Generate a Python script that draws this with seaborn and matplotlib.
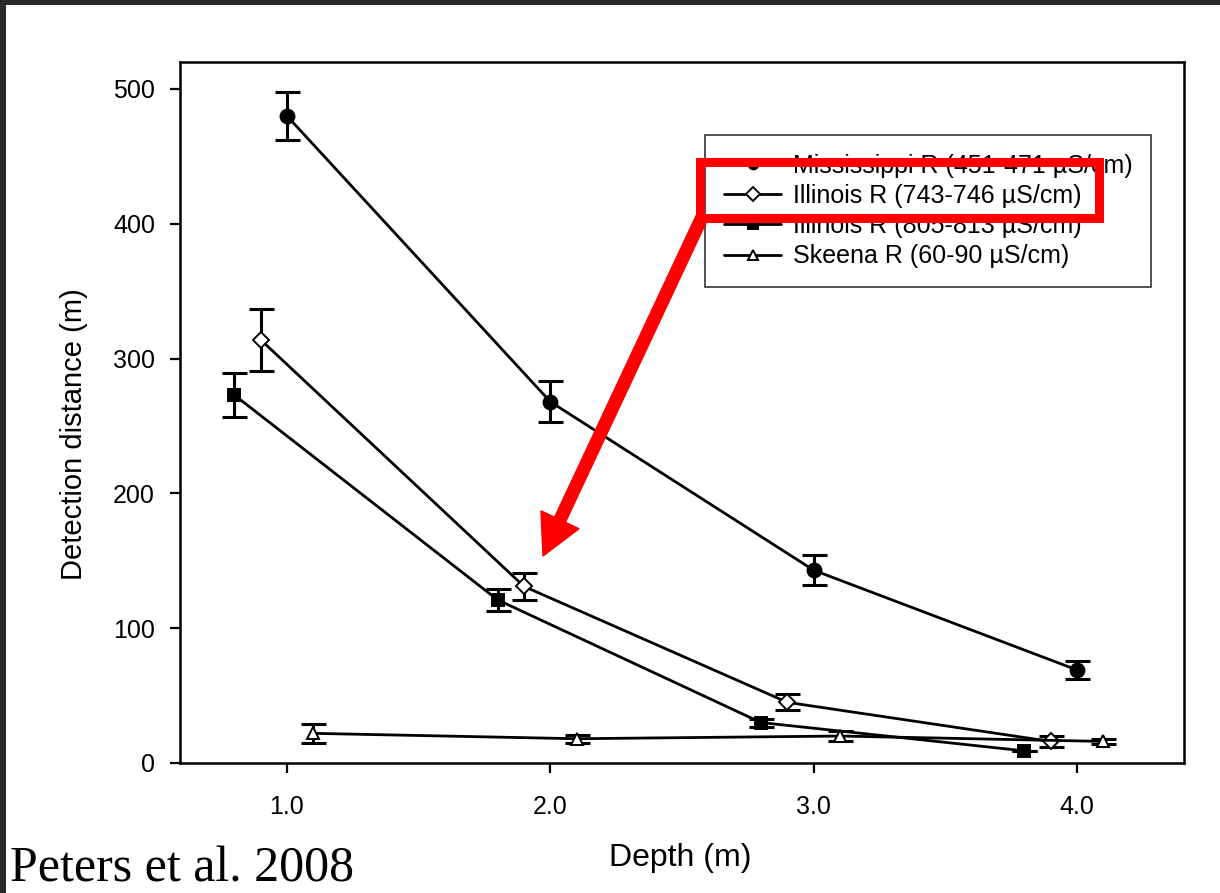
import matplotlib
matplotlib.use("Agg")
import matplotlib.pyplot as plt
import seaborn as sns
import pandas as pd
from matplotlib.patches import Rectangle, FancyArrow
from matplotlib.transforms import IdentityTransform

# ---- data ----
series_names = [
    "Mississippi R (451-471 \u00b5S/cm)",
    "Illinois R (743-746 \u00b5S/cm)",
    "Illinois R (805-813 \u00b5S/cm)",
    "Skeena R (60-90 \u00b5S/cm)",
]
miss_depth = [1.0, 2.0, 3.0, 4.0]
miss_dist = [480, 268, 143, 69]
miss_err = [18, 15, 11, 7]

ill743_depth = [0.9, 1.9, 2.9, 3.9]
ill743_dist = [314, 131, 45, 16]
ill743_err = [23, 10, 6, 4]

ill805_depth = [0.8, 1.8, 2.8, 3.8]
ill805_dist = [273, 121, 30, 9]
ill805_err = [16, 8, 3, 0]

skeena_depth = [1.1, 2.1, 3.1, 4.1]
skeena_dist = [22, 18, 20, 16]
skeena_err = [7, 3, 4, 2]

x_ticks = [1.0, 2.0, 3.0, 4.0]
x_ticklabels = ["1.0", "2.0", "3.0", "4.0"]
y_ticks = [0, 100, 200, 300, 400, 500]

series = [
    (series_names[0], miss_depth, miss_dist, miss_err, "o", "black", 10),
    (series_names[1], ill743_depth, ill743_dist, ill743_err, "D", "white", 8),
    (series_names[2], ill805_depth, ill805_dist, ill805_err, "s", "black", 8),
    (series_names[3], skeena_depth, skeena_dist, skeena_err, "^", "white", 9),
]

sns.set_theme(style="ticks")
plt.rcParams["font.family"] = ["Liberation Sans", "DejaVu Sans"]

fig = plt.figure(figsize=(12.2, 8.93), dpi=100)
ax = fig.add_axes([180 / 1220, 130 / 893, 1004 / 1220, 701 / 893])

for name, xs, ys, es, mk, fc, ms in series:
    df = pd.DataFrame({"Depth": xs, "Distance": ys})
    ax.errorbar(xs, ys, yerr=es, fmt="none", ecolor="black", elinewidth=2.2,
                capsize=9, capthick=2.2, zorder=2)
    sns.lineplot(data=df, x="Depth", y="Distance", ax=ax, color="black",
                 estimator=None, sort=False, linewidth=2.0, marker=mk,
                 markersize=ms, markerfacecolor=fc, markeredgecolor="black",
                 markeredgewidth=1.4, label=name, zorder=3)

ax.set_xlim(0.594, 4.406)
ax.set_ylim(0, 520)
ax.set_xticks(x_ticks)
ax.set_xticklabels(x_ticklabels)
ax.set_yticks(y_ticks)
ax.tick_params(axis="both", labelsize=18, length=7, width=1.6,
               colors="black", direction="out")
ax.tick_params(axis="x", pad=16)
ax.tick_params(axis="y", pad=11)
for sp in ax.spines.values():
    sp.set_linewidth(1.8)
    sp.set_color("black")
    sp.set_visible(True)

ax.set_xlabel("Depth (m)", fontsize=23, color="black")
ax.set_ylabel("Detection distance (m)", fontsize=21, color="black")
ax.yaxis.set_label_coords(-0.092, 0.469)
ax.xaxis.set_label_coords(0.498, -0.114)

handles, labels = ax.get_legend_handles_labels()
leg = ax.legend(handles, labels, loc="upper left", bbox_to_anchor=(0.523, 0.896),
                borderaxespad=0, fontsize=18, frameon=True, fancybox=False,
                edgecolor="black", handlelength=2.3, handletextpad=0.45,
                labelspacing=0.25, borderpad=0.75, labelcolor="black")
leg.get_frame().set_linewidth(1.2)
for h in leg.legend_handles:
    h.set_markersize(7)

# red highlight box and arrow (figure pixel coordinates)
H = 893
fig.add_artist(Rectangle((699.5, H - 217.5), 399, 56, fill=False,
                         edgecolor="#ff0000", linewidth=6.5,
                         transform=IdentityTransform(), zorder=10))
fig.add_artist(FancyArrow(703, H - 215, 543 - 703, (H - 556) - (H - 215),
                          width=12, head_width=42, head_length=40,
                          length_includes_head=True, color="#ff0000",
                          transform=IdentityTransform(), zorder=10))

# citation text
fig.text(10 / 1220, 0.0, "Peters et al. 2008", fontsize=36,
         family=["Liberation Serif", "DejaVu Serif"], color="black",
         ha="left", va="bottom")

# dark border at top and left
fig.add_artist(Rectangle((0, 1 - 5 / 893), 1, 5 / 893, facecolor="#2a2a2a",
                         edgecolor="none", transform=fig.transFigure, zorder=20))
fig.add_artist(Rectangle((0, 0), 6 / 1220, 1, facecolor="#2a2a2a",
                         edgecolor="none", transform=fig.transFigure, zorder=20))

fig.savefig("out.png", dpi=100)
